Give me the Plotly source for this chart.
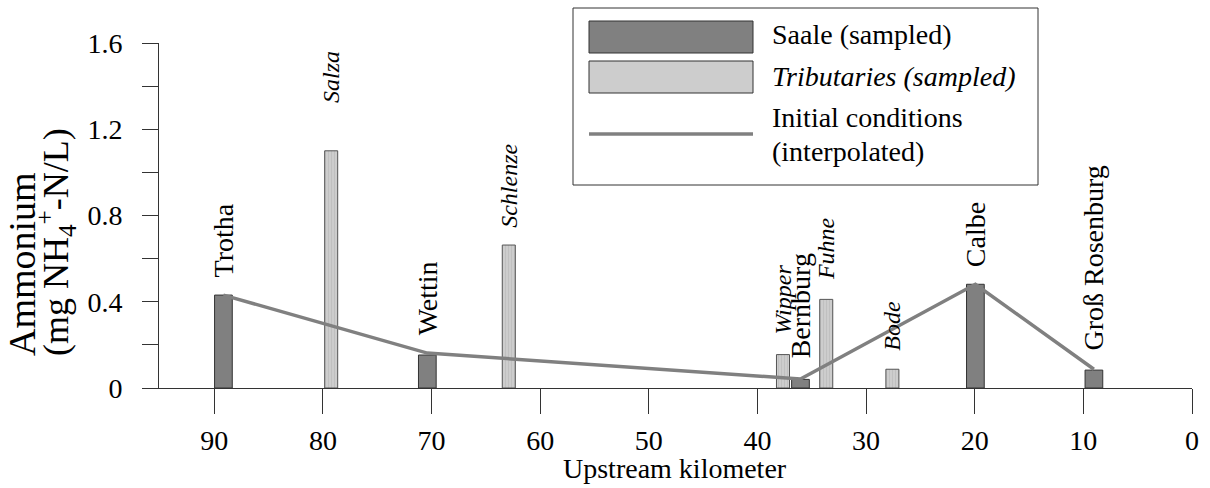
import plotly.graph_objects as go

# ---------------- data ----------------
saale_names = ["Trotha", "Wettin", "Bernburg", "Calbe", "Groß Rosenburg"]
saale_km = [89.16, 70.39, 36.04, 19.94, 9.03]
saale_nh4 = [0.431, 0.153, 0.040, 0.481, 0.083]

trib_names = ["Salza", "Schlenze", "Wipper", "Fuhne", "Bode"]
trib_km = [79.24, 62.89, 37.65, 33.67, 27.58]
trib_nh4 = [1.10, 0.663, 0.155, 0.411, 0.087]

initial_km = [89.16, 70.39, 36.04, 19.94, 9.03]
initial_nh4 = [0.431, 0.162, 0.042, 0.481, 0.087]

x_tickvals = [90, 80, 70, 60, 50, 40, 30, 20, 10, 0]
y_tickvals = [0, 0.2, 0.4, 0.6, 0.8, 1.0, 1.2, 1.4, 1.6]
y_ticktext = ["0", "", "0.4", "", "0.8", "", "1.2", "", "1.6"]

legend_labels = ["Saale (sampled)", "Tributaries (sampled)", "Initial conditions", "(interpolated)"]
x_title = "Upstream kilometer"
y_title_1 = "Ammonium"
y_title_2 = "(mg NH<sub>4</sub><sup>+</sup>-N/L)"

# ---------------- style ----------------
FONT = "Liberation Serif"
W, H = 1210, 488
L, R, T, B = 159, 18, 43, 100
AX = "#333333"
SAALE_FILL = "#808080"
TRIB_FILL = "#cdcdcd"
LINE_COL = "#808080"

saale_gap = [18, 20, 21, 17, 20]
trib_gap = [48, 17, 20, 19, 19]


def px(x):
    return (x - L) / (W - L - R)


def py(y):
    return (H - B - y) / (H - T - B)


fig = go.Figure()

fig.add_trace(go.Bar(
    x=saale_km, y=saale_nh4, width=1.63,
    marker=dict(color=SAALE_FILL, line=dict(color=AX, width=1)),
    showlegend=False, name=legend_labels[0],
))
fig.add_trace(go.Bar(
    x=trib_km, y=trib_nh4, width=1.2,
    marker=dict(color=TRIB_FILL, line=dict(color="#555555", width=1),
                pattern=dict(shape="|", fgcolor="#b0b0b0", bgcolor=TRIB_FILL,
                             size=3, solidity=0.3)),
    showlegend=False, name=legend_labels[1],
))
fig.add_trace(go.Scatter(
    x=initial_km, y=initial_nh4, mode="lines",
    line=dict(color=LINE_COL, width=3.5),
    showlegend=False, name=legend_labels[2],
))

annotations = []
for name, km, v, g in zip(saale_names, saale_km, saale_nh4, saale_gap):
    annotations.append(dict(
        x=km, y=v, xref="x", yref="y", text=name, textangle=-90,
        showarrow=False, xanchor="center", yanchor="bottom", yshift=g - 2,
        font=dict(family=FONT, size=28, color="black"),
    ))
for name, km, v, g in zip(trib_names, trib_km, trib_nh4, trib_gap):
    annotations.append(dict(
        x=km, y=v, xref="x", yref="y", text="<i>" + name + "</i>", textangle=-90,
        showarrow=False, xanchor="center", yanchor="bottom", yshift=g - 2,
        font=dict(family=FONT, size=24, color="black"),
    ))

# axis titles
annotations.append(dict(
    x=px(675), y=py(468), xref="paper", yref="paper", text=x_title,
    showarrow=False, xanchor="center", yanchor="middle",
    font=dict(family=FONT, size=28, color="black"),
))
annotations.append(dict(
    x=px(22), y=py(358), xref="paper", yref="paper", text=y_title_1, textangle=-90,
    showarrow=False, xanchor="center", yanchor="bottom",
    font=dict(family=FONT, size=38, color="black"),
))
annotations.append(dict(
    x=px(56), y=py(358), xref="paper", yref="paper", text=y_title_2, textangle=-90,
    showarrow=False, xanchor="center", yanchor="bottom",
    font=dict(family=FONT, size=36, color="black"),
))

# custom legend
shapes = [
    dict(type="rect", xref="paper", yref="paper", x0=px(573), x1=px(1038), y0=py(8), y1=py(185),
         line=dict(color=AX, width=1), fillcolor="white", layer="above"),
    dict(type="rect", xref="paper", yref="paper", x0=px(589), x1=px(753), y0=py(21), y1=py(53),
         line=dict(color=AX, width=1), fillcolor=SAALE_FILL, layer="above"),
    dict(type="rect", xref="paper", yref="paper", x0=px(589), x1=px(753), y0=py(61), y1=py(93),
         line=dict(color=AX, width=1), fillcolor=TRIB_FILL, layer="above"),
    dict(type="line", xref="paper", yref="paper", x0=px(589), x1=px(753), y0=py(134), y1=py(134),
         line=dict(color=LINE_COL, width=3.5), layer="above"),
]
legend_y = [35, 76, 118, 151]
legend_txt = [legend_labels[0], "<i>" + legend_labels[1] + "</i>", legend_labels[2], legend_labels[3]]
for t, yy in zip(legend_txt, legend_y):
    annotations.append(dict(
        x=px(770), y=py(yy), xref="paper", yref="paper", text=t,
        showarrow=False, xanchor="left", yanchor="middle",
        font=dict(family=FONT, size=28, color="black"),
    ))

fig.update_layout(
    width=W, height=H,
    margin=dict(l=L, r=R, t=T, b=B, pad=0),
    paper_bgcolor="white", plot_bgcolor="white",
    font=dict(family=FONT, size=28, color="black"),
    barmode="overlay",
    annotations=annotations,
    shapes=shapes,
    xaxis=dict(
        range=[95.09, 0], tickvals=x_tickvals, ticktext=[str(v) for v in x_tickvals],
        ticks="outside", ticklen=25, tickwidth=1, tickcolor=AX,
        showline=True, linecolor=AX, linewidth=1,
        showgrid=False, zeroline=False, ticklabelstandoff=2,
        tickfont=dict(family=FONT, size=28, color="black"),
    ),
    yaxis=dict(
        range=[0, 1.6], tickvals=y_tickvals, ticktext=y_ticktext,
        ticks="outside", ticklen=16, tickwidth=1, tickcolor=AX,
        showline=True, linecolor=AX, linewidth=1,
        showgrid=False, zeroline=False, ticklabelstandoff=14,
        tickfont=dict(family=FONT, size=28, color="black"),
    ),
)

fig.write_html("out.html")
